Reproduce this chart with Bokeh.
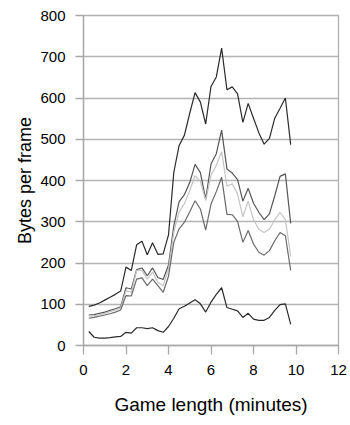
from bokeh.plotting import figure
from bokeh.models import FixedTicker, Range1d
from bokeh.embed import file_html
from bokeh.resources import INLINE

minutes = [0.25, 0.5, 0.75, 1.0, 1.25, 1.5, 1.75, 2.0, 2.25, 2.5, 2.75, 3.0, 3.25,
           3.5, 3.75, 4.0, 4.25, 4.5, 4.75, 5.0, 5.25, 5.5, 5.75, 6.0, 6.25, 6.5,
           6.75, 7.0, 7.25, 7.5, 7.75, 8.0, 8.25, 8.5, 8.75, 9.0, 9.25, 9.5, 9.75]

top_series = [95, 98, 103, 110, 117, 124, 132, 190, 182, 244, 253, 220, 249,
              221, 222, 268, 420, 485, 510, 563, 613, 590, 537, 628, 651, 721,
              620, 627, 610, 541, 587, 551, 516, 488, 502, 551, 575, 600, 487]

upper_gray = [74, 75, 78, 81, 85, 89, 94, 140, 137, 184, 188, 169, 188,
              165, 160, 195, 290, 349, 366, 395, 439, 419, 355, 440, 465, 522,
              428, 418, 402, 350, 381, 345, 323, 305, 319, 363, 410, 416, 296]

light_gray = [71, 72, 75, 78, 82, 86, 91, 133, 129, 182, 182, 161, 178,
              153, 145, 185, 275, 324, 344, 375, 412, 398, 351, 413, 437, 470,
              386, 392, 367, 312, 350, 305, 282, 274, 282, 305, 323, 305, 216]

lower_gray = [66, 68, 71, 74, 77, 81, 86, 121, 120, 161, 164, 145, 161,
              145, 129, 168, 250, 283, 299, 324, 351, 331, 280, 343, 373, 408,
              318, 317, 301, 250, 279, 246, 226, 219, 230, 254, 274, 266, 182]

bottom_series = [34, 20, 18, 18, 19, 21, 22, 32, 30, 43, 43, 41, 43,
                 36, 32, 46, 66, 89, 95, 103, 111, 101, 81, 105, 124, 140,
                 92, 88, 84, 68, 78, 64, 61, 61, 68, 85, 99, 101, 51]

x_ticks = [0, 2, 4, 6, 8, 10, 12]
y_ticks = [0, 100, 200, 300, 400, 500, 600, 700, 800]

FONT = "Liberation Sans"

p = figure(width=350, height=425, output_backend="svg", toolbar_location=None,
           x_range=Range1d(0, 12), y_range=Range1d(0, 800),
           min_border_left=83, min_border_right=12, min_border_top=15,
           min_border_bottom=80)

p.background_fill_color = "white"
p.border_fill_color = "white"
p.outline_line_color = "#b0b0b0"
p.outline_line_width = 1.3

p.xgrid.visible = False
p.ygrid.ticker = FixedTicker(ticks=y_ticks)
p.ygrid.grid_line_color = "#b4b4b4"
p.ygrid.grid_line_width = 1.4

for ax, ticks in ((p.xaxis[0], x_ticks), (p.yaxis[0], y_ticks)):
    ax.ticker = FixedTicker(ticks=ticks)
    ax.axis_line_color = "#a8a8a8"
    ax.axis_line_width = 1.3
    ax.major_tick_line_color = "#a8a8a8"
    ax.major_tick_line_width = 1.3
    ax.major_tick_in = 0
    ax.minor_tick_line_color = None
    ax.major_label_text_font = FONT
    ax.major_label_text_font_size = "15px"
    ax.major_label_text_color = "black"
    ax.axis_label_text_font = FONT
    ax.axis_label_text_font_style = "normal"
    ax.axis_label_text_color = "black"

p.xaxis.axis_label = "Game length (minutes)"
p.yaxis.axis_label = "Bytes per frame"
p.xaxis.axis_label_text_font_size = "19px"
p.yaxis.axis_label_text_font_size = "18px"
p.xaxis.major_tick_out = 9
p.yaxis.major_tick_out = 8
p.xaxis.major_label_standoff = 10
p.yaxis.major_label_standoff = 10
p.xaxis.axis_label_standoff = 16
p.yaxis.axis_label_standoff = 2

p.line(minutes, top_series, line_color="#2a2a2a", line_width=1.2)
p.line(minutes, upper_gray, line_color="#555555", line_width=1.2)
p.line(minutes, light_gray, line_color="#c4c4c4", line_width=1.2)
p.line(minutes, lower_gray, line_color="#6a6a6a", line_width=1.2)
p.line(minutes, bottom_series, line_color="#2a2a2a", line_width=1.2)

open("out.html", "w").write(file_html(p, INLINE))
